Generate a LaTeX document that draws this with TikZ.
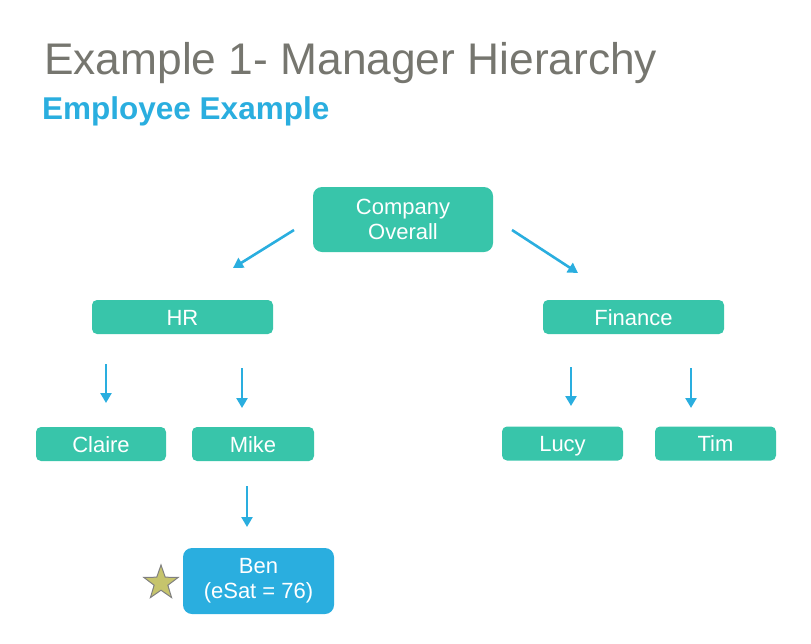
\documentclass[tikz,border=0pt]{standalone}
\usepackage{fontspec}
\setmainfont{Liberation Sans}
\usetikzlibrary{shapes.geometric,arrows.meta}

\definecolor{teal}{HTML}{38C5AA}
\definecolor{skyblue}{HTML}{2AAEDF}
\definecolor{titlegray}{HTML}{76766F}
\definecolor{starfill}{HTML}{C6C46C}

\begin{document}
\begin{tikzpicture}[x=1pt, y=-1pt]

\tikzstyle{unit} = [rectangle, rounded corners=5pt, fill=teal, text=white, inner sep=0pt,
  font=\fontsize{22}{25}\selectfont, minimum height=34pt, align=center]
\tikzstyle{one} = [text height=18pt, text depth=2pt]
\tikzstyle{arr} = [draw=skyblue, line width=2.6pt, -{Triangle[width=11pt,length=10pt]}]

\useasboundingbox (0,0) rectangle (811,643);

\node[anchor=base west, inner sep=0pt, text=titlegray, font=\fontsize{44.3}{48}\selectfont] (title) at (44,74) {Example 1- Manager Hierarchy};
\node[anchor=base west, inner sep=0pt, text=skyblue, font=\fontsize{31.5}{34}\selectfont\bfseries] (sub) at (42,119) {Employee Example};

\node[unit, minimum width=180pt, minimum height=65pt, rounded corners=9pt] (co) at (403,219.5) {Company\\Overall};

\node[unit, one, minimum width=181pt] (hr) at (182.5,317) {HR};
\node[unit, one, minimum width=181pt] (fin) at (633.5,317) {Finance};

\node[unit, one, minimum width=130pt] (cl) at (101,444) {Claire};
\node[unit, one, minimum width=122pt] (mi) at (253,444) {Mike};
\node[unit, one, minimum width=121pt] (lu) at (562.5,443.5) {Lucy};
\node[unit, one, minimum width=121pt] (ti) at (715.5,443.5) {Tim};

\node[unit, fill=skyblue, minimum width=151pt, minimum height=66pt, rounded corners=9pt] (ben) at (258.5,581) {Ben\\(eSat = 76)};
\node[star, star points=5, star point ratio=2.5, minimum size=36pt, inner sep=0pt, fill=starfill, draw=gray, line width=1pt] (st) at (161,583) {};

\coordinate (co-l) at (294,230);
\coordinate (hr-t) at (233,268);
\coordinate (co-r) at (512,230);
\coordinate (fin-t) at (578,273);
\coordinate (hr-a) at (106,364);
\coordinate (cl-t) at (106,403);
\coordinate (hr-b) at (242,368);
\coordinate (mi-t) at (242,408);
\coordinate (fin-a) at (571,367);
\coordinate (lu-t) at (571,406);
\coordinate (fin-b) at (691,368);
\coordinate (ti-t) at (691,408);
\coordinate (mi-b) at (247,486);
\coordinate (ben-t) at (247,527);

\draw[arr] (co-l) -- (hr-t);
\draw[arr] (co-r) -- (fin-t);
\draw[arr] (hr-a) -- (cl-t);
\draw[arr] (hr-b) -- (mi-t);
\draw[arr] (fin-a) -- (lu-t);
\draw[arr] (fin-b) -- (ti-t);
\draw[arr] (mi-b) -- (ben-t);

\end{tikzpicture}
\end{document}
